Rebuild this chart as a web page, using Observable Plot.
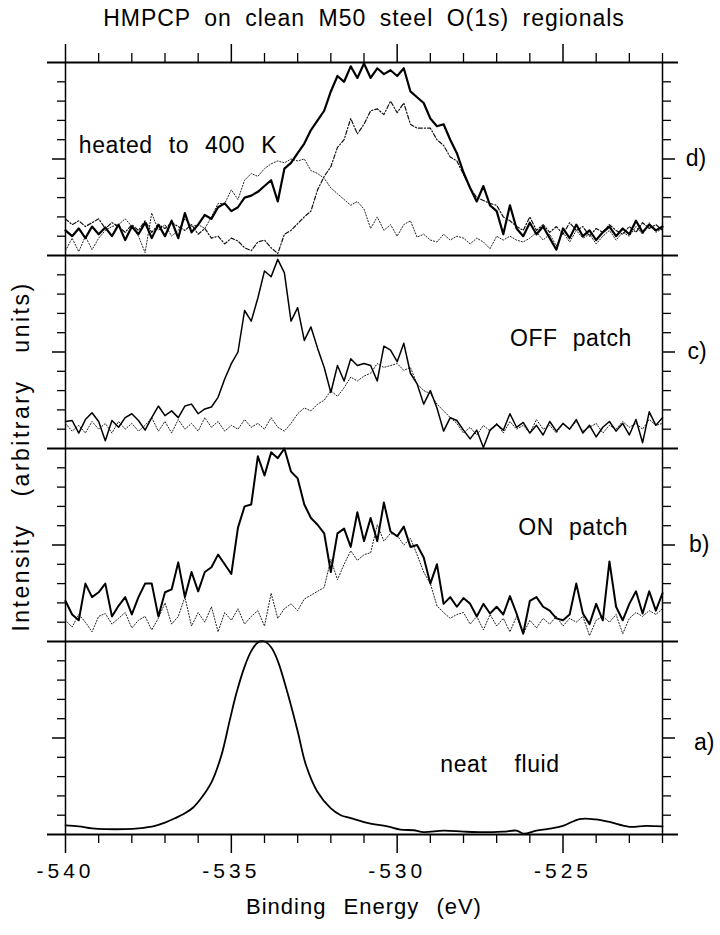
<!DOCTYPE html>
<html><head><meta charset="utf-8">
<script src="https://cdn.jsdelivr.net/npm/d3@7"></script>
<script src="https://cdn.jsdelivr.net/npm/@observablehq/plot@0.6"></script>
<style>
html,body{margin:0;padding:0;background:#fff;}
svg text{font-family:"Liberation Sans",Arial,Helvetica,sans-serif;fill:#000;}
</style>
</head><body><div id="chart"></div>
<script>
// ---- text ----
const chartTitle = "HMPCP on clean M50 steel O(1s) regionals";
const xLabel = "Binding Energy (eV)";
const yLabel = "Intensity (arbitrary units)";
const panelLetters = ["a)", "b)", "c)", "d)"];
const panelNotes = ["neat fluid", "ON patch", "OFF patch", "heated to 400 K"];
const xTickMajor = [-540, -535, -530, -525];

// ---- measurement grid (eV) for panels b, c, d ----
const energyGrid = [
 -540, -539.8, -539.6, -539.4, -539.2, -539, -538.8, -538.6, -538.4, -538.2,
 -538, -537.8, -537.6, -537.4, -537.2, -537, -536.8, -536.6, -536.4, -536.2,
 -536, -535.8, -535.6, -535.4, -535.2, -535, -534.8, -534.6, -534.4, -534.2,
 -534, -533.8, -533.6, -533.4, -533.2, -533, -532.8, -532.6, -532.4, -532.2,
 -532, -531.8, -531.6, -531.4, -531.2, -531, -530.8, -530.6, -530.4, -530.2,
 -530, -529.8, -529.6, -529.4, -529.2, -529, -528.8, -528.6, -528.4, -528.2,
 -528, -527.8, -527.6, -527.4, -527.2, -527, -526.8, -526.6, -526.4, -526.2,
 -526, -525.8, -525.6, -525.4, -525.2, -525, -524.8, -524.6, -524.4, -524.2,
 -524, -523.8, -523.6, -523.4, -523.2, -523, -522.8, -522.6, -522.4, -522.2,
 -522];

// ---- d) heated to 400 K ----
const heatedTotal = [
 1.3, 1.0, 1.4, 0.9, 1.5, 1.1, 1.45, 1.0, 1.6, 0.8,
 1.5, 1.1, 1.7, 0.9, 1.6, 1.0, 1.8, 0.9, 2.2, 1.2,
 1.6, 2.1, 1.9, 2.5, 2.7, 2.3, 2.5, 3.0, 3.1, 3.3,
 3.6, 3.9, 2.8, 4.5, 4.8, 5.3, 5.8, 6.5, 7.0, 7.5,
 8.5, 9.3, 9.0, 9.8, 9.2, 9.95, 9.2, 9.7, 9.4, 9.6,
 9.3, 9.7, 8.5, 8.2, 7.9, 7.1, 6.7, 6.8, 6.0, 5.3,
 4.3, 3.5, 2.8, 3.6, 2.6, 2.3, 1.1, 2.6, 1.4, 1.0,
 1.7, 1.1, 1.5, 0.9, 0.3, 1.4, 0.9, 1.6, 1.0, 1.3,
 0.8, 1.2, 1.5, 1.0, 1.4, 1.1, 1.8, 1.2, 1.6, 1.3,
 1.5];
const heatedHighBE = [
 0.25, 0.9, 0.2, 1.0, 0.3, 0.9, 1.3, 1.5, 1.6, 1.9,
 1.5, 1.0, 0.15, 2.2, 1.3, 1.6, 1.0, 1.3, 1.9, 1.5,
 1.6, 1.4, 2.0, 2.7, 2.7, 3.4, 2.9, 3.9, 4.25, 4.1,
 4.5, 4.75, 4.9, 4.8, 5.0, 4.9, 5.0, 4.4, 4.25, 4.0,
 3.5, 3.2, 2.9, 2.6, 2.8, 2.4, 1.4, 2.0, 1.3, 1.6,
 1.0, 1.6, 1.8, 0.95, 1.1, 0.8, 0.7, 1.1, 0.8, 1.0,
 0.9, 0.6, 0.9, 0.7, 0.35, 1.0, 0.8, 1.0, 0.8, 0.7,
 0.9, 1.2, 0.8, 1.1, 0.5, 1.2, 0.7, 1.3, 0.9, 1.1,
 0.6, 1.0, 1.3, 0.8, 1.2, 1.0, 1.5, 1.1, 1.7, 1.2,
 1.4];
const heatedLowBE = [
 1.9, 1.6, 1.8, 1.5, 1.7, 1.9, 1.4, 1.7, 1.5, 1.2,
 1.6, 1.3, 1.8, 1.2, 1.6, 1.4, 1.7, 1.5, 1.3, 1.6,
 1.1, 1.4, 0.9, 1.0, 0.6, 0.9, 0.75, 0.4, 0.25, 0.7,
 0.8, 0.4, 0.1, 1.1, 1.3, 1.65, 2.0, 2.3, 3.4, 4.1,
 4.6, 5.6, 6.0, 7.1, 6.3, 6.8, 7.5, 7.6, 7.3, 8.0,
 7.4, 7.9, 6.8, 6.6, 6.6, 6.6, 6.0, 5.7, 5.1, 4.9,
 4.2, 3.5, 3.0, 2.85, 2.7, 2.6, 2.0, 1.8, 1.5, 1.3,
 2.0, 1.3, 1.6, 1.2, 1.5, 1.1, 1.7, 1.3, 1.5, 1.0,
 1.4, 1.2, 1.6, 1.3, 1.1, 1.5, 1.2, 1.7, 1.4, 1.6,
 1.3];

// ---- c) OFF patch ----
const offTotal = [
 1.4, 1.45, 0.8, 1.5, 1.85, 1.4, 0.4, 1.45, 1.1, 1.6,
 1.8, 1.45, 0.95, 1.6, 2.2, 1.7, 1.95, 1.6, 2.2, 2.3,
 1.8, 2.05, 2.15, 2.65, 3.6, 4.4, 5.0, 7.15, 6.6, 7.8,
 9.2, 8.9, 9.8, 9.1, 6.6, 7.3, 5.6, 6.3, 5.2, 4.2,
 2.9, 4.3, 3.5, 4.65, 4.3, 4.4, 4.3, 3.5, 5.3, 5.1,
 4.5, 5.45, 3.9, 3.35, 2.3, 3.0, 2.1, 0.9, 1.6, 1.45,
 0.95, 0.5, 0.95, 0.05, 0.95, 1.25, 0.95, 1.8, 1.1, 1.35,
 0.8, 1.2, 0.7, 1.4, 0.9, 1.3, 1.0, 1.5, 0.8, 1.2,
 0.6, 1.1, 1.4, 0.9, 1.3, 0.7, 1.5, 0.3, 1.9, 1.2,
 1.6];
const offLowBE = [
 1.3, 0.9, 1.2, 0.8, 1.4, 1.0, 1.3, 0.8, 1.4, 1.0,
 1.3, 0.9, 1.2, 1.6, 0.9, 1.4, 0.8, 1.5, 1.0, 1.3,
 0.9, 1.6, 1.1, 1.4, 0.9, 1.2, 1.0, 1.5, 1.1, 1.3,
 1.0, 1.6, 1.1, 0.9, 1.3, 1.8, 2.1, 1.95, 2.3, 2.5,
 3.0, 2.7, 3.15, 3.7, 3.5, 3.75, 3.9, 4.4, 4.2, 4.3,
 4.4, 4.05, 4.2, 3.35, 3.0, 2.85, 2.3, 1.95, 1.6, 1.3,
 0.8, 1.1, 0.7, 1.2, 0.9, 1.3, 0.8, 1.4, 1.0, 1.2,
 0.8, 1.5, 1.0, 1.2, 0.8, 1.3, 1.0, 1.4, 0.9, 1.1,
 1.3, 0.8, 1.2, 1.0, 1.4, 1.1, 1.3, 1.0, 1.5, 1.2,
 1.3];

// ---- b) ON patch ----
const onTotal = [
 2.1, 1.4, 1.1, 3.0, 2.3, 2.55, 3.0, 1.3, 1.85, 2.3,
 1.4, 2.3, 3.0, 3.0, 1.3, 2.55, 2.7, 4.1, 2.3, 3.6,
 2.6, 3.6, 3.85, 4.5, 4.0, 3.5, 5.9, 7.0, 7.1, 9.6,
 8.6, 9.8, 9.5, 10.0, 8.8, 8.45, 7.1, 6.4, 6.05, 5.6,
 3.6, 5.6, 5.85, 4.9, 6.7, 5.2, 6.4, 5.2, 7.2, 5.7,
 5.45, 5.95, 4.9, 5.0, 4.35, 3.0, 4.0, 1.95, 2.3, 1.8,
 2.25, 1.95, 1.3, 1.95, 1.45, 1.8, 1.4, 2.35, 1.45, 0.4,
 2.1, 2.3, 1.8, 1.6, 1.2, 1.1, 1.4, 3.0, 1.45, 0.9,
 1.95, 1.1, 4.15, 1.8, 1.1, 1.95, 2.6, 1.45, 2.6, 1.6,
 2.5];
const onLowBE = [
 1.1, 0.75, 1.4, 1.0, 0.5, 1.3, 1.45, 0.9, 1.2, 1.5,
 0.7, 1.1, 1.3, 0.6, 1.2, 2.0, 0.9, 1.3, 2.3, 0.8,
 1.5, 1.0, 1.8, 0.5, 1.5, 1.1, 1.7, 0.9, 1.3, 1.6,
 0.8, 2.5, 1.2, 1.7, 1.95, 1.6, 2.2, 2.4, 2.6, 2.8,
 4.25, 3.2, 4.0, 4.7, 4.2, 4.5, 4.6, 6.05, 5.2, 5.6,
 5.5, 5.0, 5.35, 4.5, 3.6, 3.0, 1.85, 1.5, 1.2, 1.4,
 1.5, 0.9, 1.3, 0.6, 1.4, 0.8, 1.2, 0.5, 1.3, 0.4,
 1.1, 0.7, 1.2, 0.9, 1.3, 0.8, 1.2, 1.0, 1.3, 0.3,
 1.1, 1.3, 1.0, 1.4, 0.4, 1.2, 1.5, 1.3, 1.6, 1.4,
 1.7];

// ---- a) neat fluid ----
const fluidEnergy = [
 -540, -539.6, -539.2, -538.8, -538.2, -537.8, -537.3, -537, -536.7, -536.4,
 -536.15, -535.9, -535.6, -535.3, -535.05, -534.85, -534.6, -534.4, -534.2, -534,
 -533.8, -533.6, -533.3, -533, -532.75, -532.4, -532, -531.7, -531.4, -530.9,
 -530.3, -529.9, -529.5, -529.2, -528.6, -528, -527.4, -526.8, -526.4, -526.2,
 -525.8, -525.4, -525, -524.5, -524, -523.6, -523, -522.5, -522];
const fluidIntensity = [
 0.47, 0.42, 0.32, 0.28, 0.28, 0.32, 0.45, 0.62, 0.84, 1.1,
 1.4, 1.9, 2.7, 4.1, 5.9, 7.3, 8.7, 9.5, 9.95, 10.0,
 9.7, 9.0, 7.3, 5.35, 3.6, 2.2, 1.35, 1.0, 0.85, 0.6,
 0.42, 0.25, 0.22, 0.12, 0.2, 0.15, 0.12, 0.15, 0.2, 0.05,
 0.2, 0.3, 0.45, 0.8, 0.78, 0.65, 0.4, 0.45, 0.42];

// ---- layout helpers (panel stacking: a=0, b=1, c=2, d=3; each panel spans 10 units) ----
const xDomain = [-540, -522];
const pxPerEV = 597 / 18;
const pxPerUnit = 772 / 40;
const panelRows = (values, panel, energies = energyGrid) =>
  values.map((v, i) => ({E: energies[i], y: panel * 10 + v}));

const yTicks = [];
for (let p = 0; p < 4; p++) for (let k = 1; k <= 9; k++) yTicks.push({y: p * 10 + k, major: k === 5});
const yMinor = yTicks.filter(d => !d.major), yMajor = yTicks.filter(d => d.major);
const xAllTicks = d3.range(-540, -521.5, 1);
const xMinor = xAllTicks.filter(d => !xTickMajor.includes(d));

const noteE = [-528.7, -526.35, -526.6, -539.6];
const noteV = [3.6, 5.9, 5.7, 5.7];
const letterE = [-521.05, -521.2, -521.25, -521.3];
const letterV = [4.75, 5.0, 5.0, 5.0];

const solid = {stroke: "#000", strokeLinejoin: "round"};
const dotted = {stroke: "#222", strokeWidth: 1, strokeDasharray: "1.2,1.8"};
const dashDot = {stroke: "#111", strokeWidth: 1.2, strokeDasharray: "4,2,1.2,2"};
const mid = {textAnchor: "middle", lineAnchor: "middle"};

const chart = Plot.plot({
  width: 720, height: 935,
  marginTop: 62, marginBottom: 101, marginLeft: 65, marginRight: 58,
  x: {domain: xDomain, axis: null},
  y: {domain: [0, 40], axis: null},
  style: {background: "#fff", fontFamily: "Liberation Sans, Arial, sans-serif", color: "#000", overflow: "visible"},
  marks: [
    Plot.ruleX(xDomain, {y1: 0, y2: 40, stroke: "#000", strokeWidth: 1.5}),
    Plot.ruleY([0, 10, 20, 30, 40], {x1: -540 - 18 / pxPerEV, x2: -522 + 16 / pxPerEV, stroke: "#000", strokeWidth: 2}),
    Plot.ruleY(yMinor, {y: "y", x1: -540 - 8 / pxPerEV, x2: -540, stroke: "#000", strokeWidth: 1.3}),
    Plot.ruleY(yMajor, {y: "y", x1: -540 - 13 / pxPerEV, x2: -540, stroke: "#000", strokeWidth: 1.5}),
    Plot.ruleY(yMinor, {y: "y", x1: -522, x2: -522 + 9 / pxPerEV, stroke: "#000", strokeWidth: 1.3}),
    Plot.ruleY(yMajor, {y: "y", x1: -522, x2: -522 + 13 / pxPerEV, stroke: "#000", strokeWidth: 1.5}),
    Plot.ruleX(xMinor, {x: d => d, y1: 40, y2: 40 + 9 / pxPerUnit, stroke: "#000", strokeWidth: 1.3}),
    Plot.ruleX(xTickMajor, {x: d => d, y1: 40, y2: 40 + 18 / pxPerUnit, stroke: "#000", strokeWidth: 1.5}),
    Plot.ruleX(xMinor, {x: d => d, y1: 0, y2: -9 / pxPerUnit, stroke: "#000", strokeWidth: 1.3}),
    Plot.ruleX(xTickMajor, {x: d => d, y1: 0, y2: -19 / pxPerUnit, stroke: "#000", strokeWidth: 1.5}),
    Plot.line(panelRows(fluidIntensity, 0, fluidEnergy), {x: "E", y: "y", ...solid, strokeWidth: 1.8, curve: "catmull-rom"}),
    Plot.line(panelRows(onLowBE, 1), {x: "E", y: "y", ...dotted}),
    Plot.line(panelRows(onTotal, 1), {x: "E", y: "y", ...solid, strokeWidth: 2}),
    Plot.line(panelRows(offLowBE, 2), {x: "E", y: "y", ...dotted}),
    Plot.line(panelRows(offTotal, 2), {x: "E", y: "y", ...solid, strokeWidth: 1.5}),
    Plot.line(panelRows(heatedHighBE, 3), {x: "E", y: "y", ...dotted}),
    Plot.line(panelRows(heatedLowBE, 3), {x: "E", y: "y", ...dashDot}),
    Plot.line(panelRows(heatedTotal, 3), {x: "E", y: "y", ...solid, strokeWidth: 2.2}),
    Plot.text([chartTitle], {text: d => d, frameAnchor: "top", dy: -44, fontSize: 23, ...mid}),
    Plot.text([yLabel], {text: d => d, frameAnchor: "left", dx: -44, dy: 8, rotate: -90, fontSize: 23, ...mid}),
    Plot.text([xLabel], {text: d => d, frameAnchor: "bottom", dy: 72, fontSize: 22, ...mid}),
    Plot.text(xTickMajor, {x: d => d, text: d => String(d), frameAnchor: "bottom", dy: 37, fontSize: 21, ...mid}),
    Plot.text(panelNotes, {x: (d, i) => noteE[i], y: (d, i) => i * 10 + noteV[i], text: d => d, textAnchor: "start", fontSize: 23}),
    Plot.text(panelLetters, {x: (d, i) => letterE[i], y: (d, i) => i * 10 + letterV[i], text: d => d, textAnchor: "start", fontSize: 23})
  ]
});

// letter / word spacing to match the widely set type of the original
const spacing = new Map([
  [chartTitle, ["1px", "6px"]],
  [yLabel, ["2.5px", "18px"]],
  [xLabel, ["1px", "10px"]],
  [panelNotes[0], ["0.6px", "20px"]],
  [panelNotes[1], ["0.6px", "8px"]],
  [panelNotes[2], ["0.6px", "8px"]],
  [panelNotes[3], ["0.6px", "9px"]]
]);
xTickMajor.forEach(t => spacing.set(String(t), ["4px", "0px"]));
d3.select(chart).selectAll("text").each(function() {
  const s = spacing.get(this.textContent);
  if (s) { this.style.letterSpacing = s[0]; this.style.wordSpacing = s[1]; }
});
document.getElementById("chart").appendChild(chart);
</script></body></html>
